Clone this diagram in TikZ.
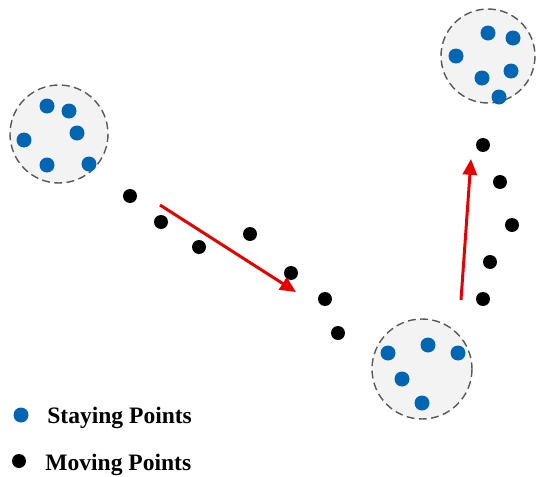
\documentclass[tikz,border=0pt]{standalone}
\usepackage{fontspec}
\setmainfont{Liberation Serif}
\usetikzlibrary{arrows.meta}

\definecolor{stayblue}{RGB}{0,102,180}
\definecolor{movered}{RGB}{230,0,0}
\definecolor{zonefill}{RGB}{243,243,243}

\begin{document}
\begin{tikzpicture}[x=0.02cm,y=-0.02cm,
	zone/.style={draw=black!65,fill=zonefill,line width=0.8pt,dash pattern=on 4.5pt off 2.5pt},
	stay/.style={circle,fill=stayblue,inner sep=0pt,minimum size=15*0.02cm},
	move/.style={circle,fill=black,inner sep=0pt,minimum size=14*0.02cm},
	trend/.style={draw=movered,line width=1.7pt,-{Triangle[length=9pt,width=8pt]}},
	legend/.style={anchor=base west,inner sep=0pt,font=\fontsize{13.4}{15}\selectfont\bfseries}]
	\useasboundingbox (0,0) rectangle (542,477);
	% staying zones
	\draw[zone] (59,134) circle [radius = 49];
	\draw[zone] (488,56) circle [radius = 47];
	\draw[zone] (422,369) circle [radius = 50];
	% staying points, left zone
	\node[stay] (a1) at (47,106) {};
	\node[stay] (a2) at (69,111) {};
	\node[stay] (a3) at (77,133) {};
	\node[stay] (a4) at (24,140) {};
	\node[stay] (a5) at (47,165) {};
	\node[stay] (a6) at (89,164) {};
	% staying points, top zone
	\node[stay] (b1) at (488,33) {};
	\node[stay] (b2) at (513,38) {};
	\node[stay] (b3) at (456,56) {};
	\node[stay] (b4) at (511,71) {};
	\node[stay] (b5) at (482,78) {};
	\node[stay] (b6) at (499,97) {};
	% staying points, bottom zone
	\node[stay] (c1) at (388,353) {};
	\node[stay] (c2) at (428,345) {};
	\node[stay] (c3) at (458,353) {};
	\node[stay] (c4) at (402,379) {};
	\node[stay] (c5) at (422,403) {};
	% moving points
	\node[move] (m1) at (130,196) {};
	\node[move] (m2) at (161,222) {};
	\node[move] (m3) at (199,247) {};
	\node[move] (m4) at (250,234) {};
	\node[move] (m5) at (291,273) {};
	\node[move] (m6) at (325,299) {};
	\node[move] (m7) at (338,333) {};
	\node[move] (n1) at (483,145) {};
	\node[move] (n2) at (500,182) {};
	\node[move] (n3) at (512,225) {};
	\node[move] (n4) at (490,262) {};
	\node[move] (n5) at (483,299) {};
	% moving directions
	\coordinate (d1) at (160,205);
	\coordinate (d2) at (296,292);
	\coordinate (e1) at (461,300);
	\coordinate (e2) at (471,159);
	\draw[trend] (d1) -- (d2);
	\draw[trend] (e1) -- (e2);
	% legend
	\node[stay] (ls) at (21,415) {};
	\node[legend] (lst) at (47,423) {Staying Points};
	\node[move] (lm) at (19,461) {};
	\node[legend] (lmt) at (45,470) {Moving Points};
\end{tikzpicture}
\end{document}
